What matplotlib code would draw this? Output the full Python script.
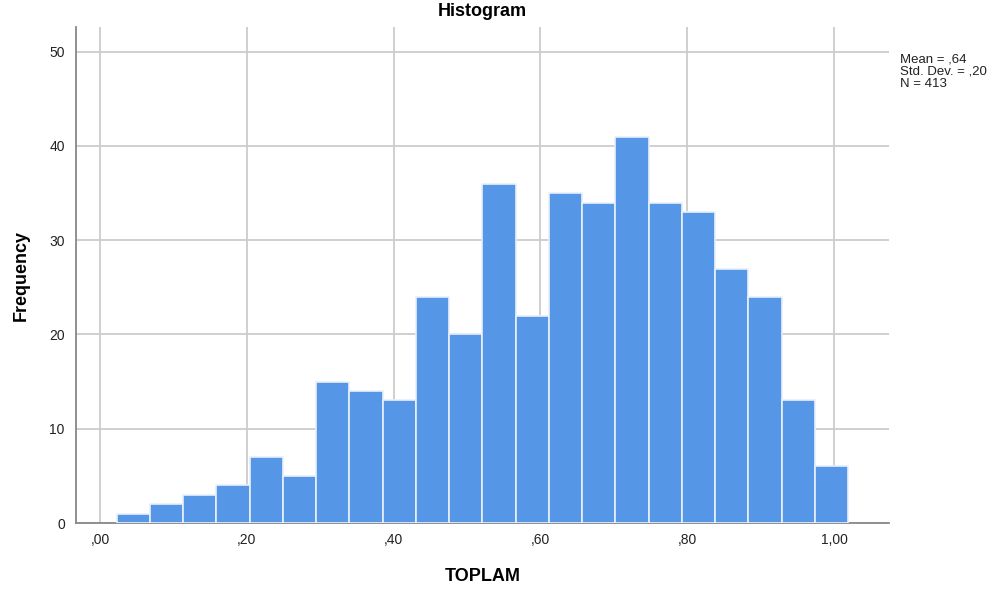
import numpy as np
import matplotlib.pyplot as plt

# frequencies
counts = [1, 2, 3, 4, 7, 5, 15, 14, 13, 24, 20, 36, 22, 35, 34, 41, 34, 33, 27, 24, 13, 6]
bin_start = 0.0227
bin_width = 0.0453
xticks = [0, 0.2, 0.4, 0.6, 0.8, 1.0]
xticklabels = [',00', ',20', ',40', ',60', ',80', '1,00']
yticks = [0, 10, 20, 30, 40, 50]
stats_text = 'Mean = ,64\nStd. Dev. = ,20\nN = 413'

plt.rcParams['font.family'] = ['Liberation Sans', 'DejaVu Sans']

edges = bin_start + bin_width * np.arange(len(counts))

fig = plt.figure(figsize=(10.05, 5.91), dpi=100)
ax = fig.add_axes([0.0756, 0.115, 0.809, 0.839])

ax.bar(edges, counts, width=bin_width, align='edge', color='#5596e6',
       edgecolor='#e8f0fb', linewidth=1.2, zorder=3)

ax.set_xlim(-0.0327, 1.075)
ax.set_ylim(0, 52.6)
ax.set_xticks(xticks)
ax.set_xticklabels(xticklabels)
ax.set_yticks(yticks)
ax.grid(True, color='#cccccc', linewidth=1.3, zorder=0)
ax.tick_params(length=0, labelsize=10, colors='#222222')
ax.tick_params(axis='x', pad=7)
ax.tick_params(axis='y', pad=8)

for s in ['top', 'right']:
    ax.spines[s].set_visible(False)
for s in ['left', 'bottom']:
    ax.spines[s].set_color('#888888')
    ax.spines[s].set_linewidth(1.3)

ax.set_title('Histogram', fontsize=13, fontweight='bold', pad=8)
ax.set_xlabel('TOPLAM', fontsize=13, fontweight='bold', labelpad=15)
ax.set_ylabel('Frequency', fontsize=13, fontweight='bold', labelpad=14)

fig.text(0.896, 0.91, stats_text, fontsize=9.5, va='top', ha='left',
         linespacing=1.05, color='#222222')

fig.savefig('out.png', dpi=100)
